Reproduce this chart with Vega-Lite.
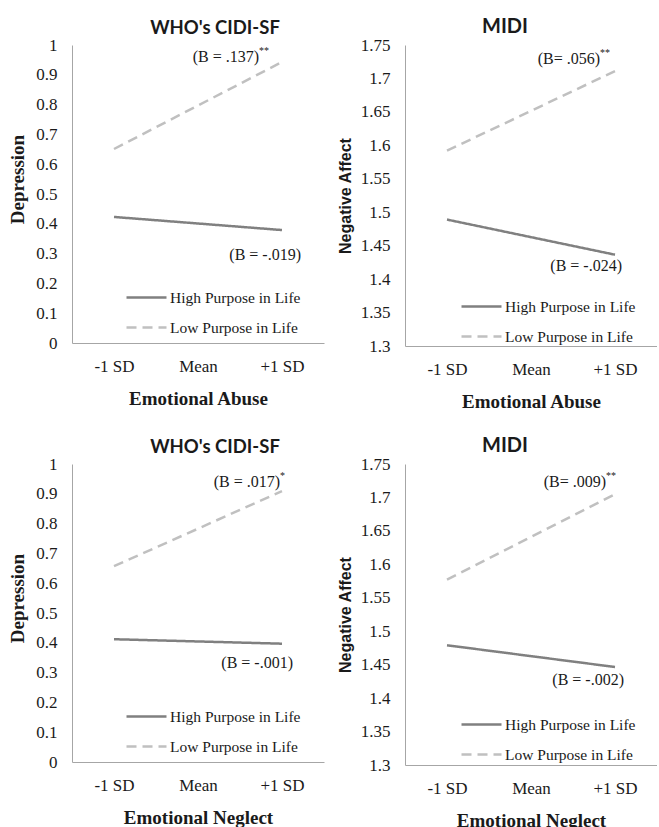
{
  "$schema": "https://vega.github.io/schema/vega-lite/v6.json",
  "padding": {"left": 8, "top": 17, "right": 0, "bottom": 0},
  "datasets": {
    "lines": [
      {"panel": "TL", "group": "High Purpose in Life", "level": "-1 SD", "value": 0.423},
      {"panel": "TL", "group": "High Purpose in Life", "level": "+1 SD", "value": 0.379},
      {"panel": "TL", "group": "Low Purpose in Life", "level": "-1 SD", "value": 0.651},
      {"panel": "TL", "group": "Low Purpose in Life", "level": "+1 SD", "value": 0.943},
      {"panel": "TR", "group": "High Purpose in Life", "level": "-1 SD", "value": 1.489},
      {"panel": "TR", "group": "High Purpose in Life", "level": "+1 SD", "value": 1.4365},
      {"panel": "TR", "group": "Low Purpose in Life", "level": "-1 SD", "value": 1.592},
      {"panel": "TR", "group": "Low Purpose in Life", "level": "+1 SD", "value": 1.711},
      {"panel": "BL", "group": "High Purpose in Life", "level": "-1 SD", "value": 0.412},
      {"panel": "BL", "group": "High Purpose in Life", "level": "+1 SD", "value": 0.397},
      {"panel": "BL", "group": "Low Purpose in Life", "level": "-1 SD", "value": 0.657},
      {"panel": "BL", "group": "Low Purpose in Life", "level": "+1 SD", "value": 0.909},
      {"panel": "BR", "group": "High Purpose in Life", "level": "-1 SD", "value": 1.479},
      {"panel": "BR", "group": "High Purpose in Life", "level": "+1 SD", "value": 1.4465},
      {"panel": "BR", "group": "Low Purpose in Life", "level": "-1 SD", "value": 1.577},
      {"panel": "BR", "group": "Low Purpose in Life", "level": "+1 SD", "value": 1.705}
    ],
    "notes": [
      {"panel": "TL", "pos": "low", "level": "+1 SD", "value": 0.96, "label": "(B = .137)", "stars": "**"},
      {"panel": "TL", "pos": "high", "level": "+1 SD", "value": 0.295, "label": "(B = -.019)", "stars": ""},
      {"panel": "TR", "pos": "low", "level": "+1 SD", "value": 1.729, "label": "(B= .056)", "stars": "**"},
      {"panel": "TR", "pos": "high", "level": "+1 SD", "value": 1.4196, "label": "(B = -.024)", "stars": ""},
      {"panel": "BL", "pos": "low", "level": "+1 SD", "value": 0.94, "label": "(B = .017)", "stars": "*"},
      {"panel": "BL", "pos": "high", "level": "+1 SD", "value": 0.333, "label": "(B = -.001)", "stars": ""},
      {"panel": "BR", "pos": "low", "level": "+1 SD", "value": 1.723, "label": "(B= .009)", "stars": "**"},
      {"panel": "BR", "pos": "high", "level": "+1 SD", "value": 1.4266, "label": "(B = -.002)", "stars": ""}
    ]
  },
  "columns": 2,
  "spacing": {"row": 118, "column": 81},
  "bounds": "flush",
  "resolve": {
    "scale": {"x": "independent", "y": "independent", "color": "independent", "strokeDash": "independent"},
    "legend": {"color": "independent", "strokeDash": "independent"}
  },
  "concat": [
    {
      "width": 252, "height": 298,
      "title": {"text": "WHO's CIDI-SF", "dx": 17, "fontSize": 18.5},
      "encoding": {
        "x": {"field": "level", "type": "nominal", "sort": null, "scale": {"domain": ["-1 SD", "Mean", "+1 SD"], "padding": 0.5}, "axis": {"title": "Emotional Abuse"}},
        "y": {"field": "value", "type": "quantitative", "scale": {"domain": [0, 1]}, "axis": {"title": "Depression", "values": [0, 0.1, 0.2, 0.3, 0.4, 0.5, 0.6, 0.7, 0.8, 0.9, 1], "tickCount": 11, "labelExpr": "format(datum.value, '.1~f')", "labelOverlap": false, "titleY": 134, "titlePadding": 8}}
      },
      "layer": [
        {
          "data": {"name": "lines"},
          "transform": [{"filter": "datum.panel === 'TL'"}],
          "mark": {"type": "line", "strokeWidth": 2.5},
          "encoding": {
            "color": {"field": "group", "type": "nominal", "scale": {"domain": ["High Purpose in Life", "Low Purpose in Life"], "range": ["#808080", "#c0c0c0"]}, "legend": {"orient": "none", "legendX": 53, "legendY": 231}},
            "strokeDash": {"field": "group", "type": "nominal", "scale": {"domain": ["High Purpose in Life", "Low Purpose in Life"], "range": [[1, 0], [10, 6]]}, "legend": {"orient": "none", "legendX": 53, "legendY": 231}}
          }
        },
        {
          "data": {"name": "notes"},
          "transform": [{"filter": "datum.panel === 'TL' && datum.pos === 'low'"}],
          "mark": {"type": "text", "align": "right", "baseline": "middle", "dx": -23},
          "encoding": {"text": {"field": "label"}}
        },
        {
          "data": {"name": "notes"},
          "transform": [{"filter": "datum.panel === 'TL' && datum.pos === 'low'"}],
          "mark": {"type": "text", "align": "left", "baseline": "middle", "dx": -23, "dy": -6, "fontSize": 10},
          "encoding": {"text": {"field": "stars"}}
        },
        {
          "data": {"name": "notes"},
          "transform": [{"filter": "datum.panel === 'TL' && datum.pos === 'high'"}],
          "mark": {"type": "text", "align": "right", "baseline": "middle", "dx": 19},
          "encoding": {"text": {"field": "label"}}
        }
      ]
    },
    {
      "width": 252, "height": 301,
      "title": {"text": "MIDI", "dx": -26},
      "encoding": {
        "x": {"field": "level", "type": "nominal", "sort": null, "scale": {"domain": ["-1 SD", "Mean", "+1 SD"], "padding": 0.5}, "axis": {"title": "Emotional Abuse"}},
        "y": {"field": "value", "type": "quantitative", "scale": {"domain": [1.3, 1.75]}, "axis": {"title": "Negative Affect", "values": [1.3, 1.35, 1.4, 1.45, 1.5, 1.55, 1.6, 1.65, 1.7, 1.75], "tickCount": 10, "labelExpr": "format(datum.value, '.2~f')", "labelOverlap": false, "titleFont": "Liberation Sans", "titleFontSize": 16, "titlePadding": 7}}
      },
      "layer": [
        {
          "data": {"name": "lines"},
          "transform": [{"filter": "datum.panel === 'TR'"}],
          "mark": {"type": "line", "strokeWidth": 2.5},
          "encoding": {
            "color": {"field": "group", "type": "nominal", "scale": {"domain": ["High Purpose in Life", "Low Purpose in Life"], "range": ["#808080", "#c0c0c0"]}, "legend": {"orient": "none", "legendX": 55, "legendY": 240}},
            "strokeDash": {"field": "group", "type": "nominal", "scale": {"domain": ["High Purpose in Life", "Low Purpose in Life"], "range": [[1, 0], [10, 6]]}, "legend": {"orient": "none", "legendX": 55, "legendY": 240}}
          }
        },
        {
          "data": {"name": "notes"},
          "transform": [{"filter": "datum.panel === 'TR' && datum.pos === 'low'"}],
          "mark": {"type": "text", "align": "right", "baseline": "middle", "dx": -15},
          "encoding": {"text": {"field": "label"}}
        },
        {
          "data": {"name": "notes"},
          "transform": [{"filter": "datum.panel === 'TR' && datum.pos === 'low'"}],
          "mark": {"type": "text", "align": "left", "baseline": "middle", "dx": -15, "dy": -6, "fontSize": 10},
          "encoding": {"text": {"field": "stars"}}
        },
        {
          "data": {"name": "notes"},
          "transform": [{"filter": "datum.panel === 'TR' && datum.pos === 'high'"}],
          "mark": {"type": "text", "align": "right", "baseline": "middle", "dx": 7},
          "encoding": {"text": {"field": "label"}}
        }
      ]
    },
    {
      "width": 252, "height": 298,
      "title": {"text": "WHO's CIDI-SF", "dx": 17, "fontSize": 18.5},
      "encoding": {
        "x": {"field": "level", "type": "nominal", "sort": null, "scale": {"domain": ["-1 SD", "Mean", "+1 SD"], "padding": 0.5}, "axis": {"title": "Emotional Neglect"}},
        "y": {"field": "value", "type": "quantitative", "scale": {"domain": [0, 1]}, "axis": {"title": "Depression", "values": [0, 0.1, 0.2, 0.3, 0.4, 0.5, 0.6, 0.7, 0.8, 0.9, 1], "tickCount": 11, "labelExpr": "format(datum.value, '.1~f')", "labelOverlap": false, "titleY": 134, "titlePadding": 8}}
      },
      "layer": [
        {
          "data": {"name": "lines"},
          "transform": [{"filter": "datum.panel === 'BL'"}],
          "mark": {"type": "line", "strokeWidth": 2.5},
          "encoding": {
            "color": {"field": "group", "type": "nominal", "scale": {"domain": ["High Purpose in Life", "Low Purpose in Life"], "range": ["#808080", "#c0c0c0"]}, "legend": {"orient": "none", "legendX": 53, "legendY": 231}},
            "strokeDash": {"field": "group", "type": "nominal", "scale": {"domain": ["High Purpose in Life", "Low Purpose in Life"], "range": [[1, 0], [10, 6]]}, "legend": {"orient": "none", "legendX": 53, "legendY": 231}}
          }
        },
        {
          "data": {"name": "notes"},
          "transform": [{"filter": "datum.panel === 'BL' && datum.pos === 'low'"}],
          "mark": {"type": "text", "align": "right", "baseline": "middle", "dx": -2},
          "encoding": {"text": {"field": "label"}}
        },
        {
          "data": {"name": "notes"},
          "transform": [{"filter": "datum.panel === 'BL' && datum.pos === 'low'"}],
          "mark": {"type": "text", "align": "left", "baseline": "middle", "dx": -2, "dy": -6, "fontSize": 10},
          "encoding": {"text": {"field": "stars"}}
        },
        {
          "data": {"name": "notes"},
          "transform": [{"filter": "datum.panel === 'BL' && datum.pos === 'high'"}],
          "mark": {"type": "text", "align": "right", "baseline": "middle", "dx": 11},
          "encoding": {"text": {"field": "label"}}
        }
      ]
    },
    {
      "width": 252, "height": 301,
      "title": {"text": "MIDI", "dx": -26},
      "encoding": {
        "x": {"field": "level", "type": "nominal", "sort": null, "scale": {"domain": ["-1 SD", "Mean", "+1 SD"], "padding": 0.5}, "axis": {"title": "Emotional Neglect"}},
        "y": {"field": "value", "type": "quantitative", "scale": {"domain": [1.3, 1.75]}, "axis": {"title": "Negative Affect", "values": [1.3, 1.35, 1.4, 1.45, 1.5, 1.55, 1.6, 1.65, 1.7, 1.75], "tickCount": 10, "labelExpr": "format(datum.value, '.2~f')", "labelOverlap": false, "titleFont": "Liberation Sans", "titleFontSize": 16, "titlePadding": 7}}
      },
      "layer": [
        {
          "data": {"name": "lines"},
          "transform": [{"filter": "datum.panel === 'BR'"}],
          "mark": {"type": "line", "strokeWidth": 2.5},
          "encoding": {
            "color": {"field": "group", "type": "nominal", "scale": {"domain": ["High Purpose in Life", "Low Purpose in Life"], "range": ["#808080", "#c0c0c0"]}, "legend": {"orient": "none", "legendX": 55, "legendY": 239}},
            "strokeDash": {"field": "group", "type": "nominal", "scale": {"domain": ["High Purpose in Life", "Low Purpose in Life"], "range": [[1, 0], [10, 6]]}, "legend": {"orient": "none", "legendX": 55, "legendY": 239}}
          }
        },
        {
          "data": {"name": "notes"},
          "transform": [{"filter": "datum.panel === 'BR' && datum.pos === 'low'"}],
          "mark": {"type": "text", "align": "right", "baseline": "middle", "dx": -9},
          "encoding": {"text": {"field": "label"}}
        },
        {
          "data": {"name": "notes"},
          "transform": [{"filter": "datum.panel === 'BR' && datum.pos === 'low'"}],
          "mark": {"type": "text", "align": "left", "baseline": "middle", "dx": -9, "dy": -6, "fontSize": 10},
          "encoding": {"text": {"field": "stars"}}
        },
        {
          "data": {"name": "notes"},
          "transform": [{"filter": "datum.panel === 'BR' && datum.pos === 'high'"}],
          "mark": {"type": "text", "align": "right", "baseline": "middle", "dx": 9},
          "encoding": {"text": {"field": "label"}}
        }
      ]
    }
  ],
  "config": {
    "view": {"stroke": null},
    "font": "Liberation Serif",
    "axis": {"grid": false, "ticks": false, "labelOverlap": false, "domainColor": "#a6a6a6", "domainWidth": 1, "labelFont": "Liberation Serif", "labelFontSize": 17, "labelColor": "#1a1a1a", "titleFont": "Liberation Serif", "titleFontSize": 19, "titleFontWeight": "bold", "titleColor": "#1a1a1a"},
    "axisX": {"labelAngle": 0, "labelPadding": 15, "titlePadding": 15},
    "axisY": {"labelPadding": 15, "titlePadding": 12},
    "title": {"font": "Lato", "fontSize": 20, "fontWeight": "bold", "color": "#1a1a1a", "offset": -1, "frame": "group", "anchor": "middle"},
    "legend": {"title": null, "symbolType": "stroke", "symbolSize": 1600, "symbolStrokeWidth": 2.5, "labelFont": "Liberation Serif", "labelFontSize": 15.5, "labelColor": "#1a1a1a", "labelOffset": 2, "rowPadding": -10, "padding": 0},
    "text": {"font": "Liberation Serif", "fontSize": 16, "color": "#1a1a1a"}
  }
}
